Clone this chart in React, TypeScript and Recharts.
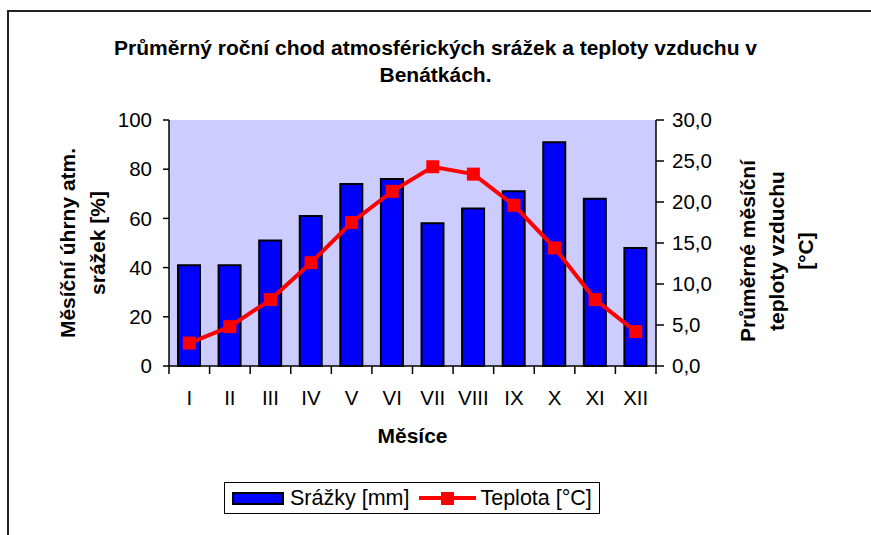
import {
  ComposedChart,
  Bar,
  Line,
  XAxis,
  YAxis,
  CartesianGrid,
  Legend,
  Label,
} from 'recharts'

const months = ['I', 'II', 'III', 'IV', 'V', 'VI', 'VII', 'VIII', 'IX', 'X', 'XI', 'XII']
const srazky = [41, 41, 51, 61, 74, 76, 58, 64, 71, 91, 68, 48]
const teplota = [2.8, 4.8, 8.1, 12.6, 17.5, 21.3, 24.3, 23.4, 19.6, 14.4, 8.1, 4.2]
const srazkyTicks = [0, 20, 40, 60, 80, 100]
const teplotaTicks = [0, 5, 10, 15, 20, 25, 30]

const data = months.map((m, i) => ({ mesic: m, srazky: srazky[i], teplota: teplota[i] }))

const FONT = '"Liberation Sans", Arial, sans-serif'
const TICK_FONT = 20.5
const BOLD_FONT = 21

const fmtComma = (v: number) => v.toFixed(1).replace('.', ',')

function MonthTick(props: any) {
  const { x, y, payload, index, visibleTicksCount } = props
  const half = payload.offset ?? 0
  const isLast = index === visibleTicksCount - 1
  return (
    <g>
      <line x1={x - half} x2={x - half} y1={y} y2={y + 8} stroke="#000" strokeWidth={1.5} />
      {isLast && <line x1={x + half} x2={x + half} y1={y} y2={y + 8} stroke="#000" strokeWidth={1.5} />}
      <text x={x} y={y + 31} textAnchor="middle" dominantBaseline="central" fontSize={TICK_FONT} fontFamily={FONT} fill="#000">
        {payload.value}
      </text>
    </g>
  )
}

function SquareDot(props: any) {
  const { cx, cy } = props
  if (cx == null || cy == null) return null
  return <rect x={cx - 6.5} y={cy - 6.5} width={13} height={13} fill="#FF0000" />
}

function RotatedLabel({ cx, cy, lines, gap }: { cx: number; cy: number; lines: string[]; gap: number }) {
  const start = -((lines.length - 1) * gap) / 2
  return (
    <text
      x={cx}
      y={cy}
      transform={`rotate(-90, ${cx}, ${cy})`}
      textAnchor="middle"
      fontSize={BOLD_FONT}
      fontWeight="bold"
      fontFamily={FONT}
      fill="#000"
    >
      {lines.map((l, i) => (
        <tspan key={i} x={cx} y={cy + start + i * gap} dominantBaseline="central">
          {l}
        </tspan>
      ))}
    </text>
  )
}

function LegendBox() {
  return (
    <div
      style={{
        width: 376,
        height: 32,
        boxSizing: 'border-box',
        border: '1px solid #000',
        background: '#fff',
        display: 'flex',
        alignItems: 'center',
        fontFamily: FONT,
        fontSize: 21.5,
        color: '#000',
        paddingLeft: 7,
        whiteSpace: 'nowrap',
      }}
    >
      <span style={{ width: 52, height: 13, boxSizing: 'border-box', background: '#0000FF', border: '2px solid #000', display: 'inline-block', flex: 'none' }} />
      <span style={{ marginLeft: 6 }}>Srážky [mm]</span>
      <svg width={57} height={16} style={{ marginLeft: 10, flex: 'none' }}>
        <line x1={0} x2={57} y1={8} y2={8} stroke="#FF0000" strokeWidth={4} />
        <rect x={22} y={2} width={13} height={13} fill="#FF0000" />
      </svg>
      <span style={{ marginLeft: 4 }}>Teplota [°C]</span>
    </div>
  )
}

export default function App() {
  return (
    <div style={{ position: 'absolute', left: 0, top: 0, width: 871, height: 535, overflow: 'hidden', background: '#fff' }}>
      <div style={{ position: 'absolute', left: 7, top: 10, width: 900, height: 600, borderLeft: '2px solid #222', borderTop: '2px solid #222' }} />
      <div
        style={{
          position: 'absolute',
          left: 0,
          top: 34,
          width: 871,
          textAlign: 'center',
          fontFamily: FONT,
          fontWeight: 'bold',
          fontSize: BOLD_FONT,
          lineHeight: '27px',
          color: '#000',
        }}
      >
        <div>Průměrný roční chod atmosférických srážek a teploty vzduchu v</div>
        <div>Benátkách.</div>
      </div>
      <div style={{ position: 'absolute', left: 0, top: 0 }}>
        <ComposedChart width={871} height={535} data={data} margin={{ top: 120, right: 155, bottom: 99, left: 109 }}>
          <CartesianGrid fill="#CCCCFF" horizontal={false} vertical={false} />
          <XAxis
            xAxisId="top"
            orientation="top"
            dataKey="mesic"
            height={0}
            tick={false}
            tickLine={false}
            axisLine={{ stroke: '#808080', strokeWidth: 2 }}
          />
          <XAxis
            dataKey="mesic"
            height={70}
            tickSize={0}
            tickMargin={0}
            tickLine={false}
            interval={0}
            axisLine={{ stroke: '#000', strokeWidth: 1.5 }}
            tick={<MonthTick />}
          >
            <Label
              content={(p: any) => {
                const vb = p.viewBox
                return (
                  <text
                    x={vb.x + vb.width / 2}
                    y={vb.y + 69}
                    textAnchor="middle"
                    dominantBaseline="central"
                    fontSize={BOLD_FONT}
                    fontWeight="bold"
                    fontFamily={FONT}
                    fill="#000"
                  >
                    Měsíce
                  </text>
                )
              }}
            />
          </XAxis>
          <YAxis
            yAxisId="left"
            width={60}
            domain={[0, 100]}
            ticks={srazkyTicks}
            tickSize={6}
            tickMargin={11}
            axisLine={{ stroke: '#000', strokeWidth: 1.5 }}
            tickLine={{ stroke: '#000', strokeWidth: 1.5 }}
            tick={{ fill: '#000', fontSize: TICK_FONT, fontFamily: FONT }}
          >
            <Label
              content={(p: any) => {
                const vb = p.viewBox
                return <RotatedLabel cx={82} cy={vb.y + vb.height / 2} lines={['Měsíční úhrny atm.', 'srážek [%]']} gap={30} />
              }}
            />
          </YAxis>
          <YAxis
            yAxisId="right"
            orientation="right"
            width={60}
            domain={[0, 30]}
            ticks={teplotaTicks}
            tickFormatter={fmtComma}
            tickSize={8}
            tickMargin={8}
            axisLine={{ stroke: '#000', strokeWidth: 1.5 }}
            tickLine={{ stroke: '#000', strokeWidth: 1.5 }}
            tick={{ fill: '#000', fontSize: TICK_FONT, fontFamily: FONT }}
          >
            <Label
              content={(p: any) => {
                const vb = p.viewBox
                return (
                  <RotatedLabel
                    cx={776}
                    cy={vb.y + vb.height / 2 + 8}
                    lines={['Průměrné měsíční', 'teploty vzduchu', '[°C]']}
                    gap={29}
                  />
                )
              }}
            />
          </YAxis>
          <Legend
            verticalAlign="middle"
            align="center"
            wrapperStyle={{ position: 'absolute', left: 224, top: 482, width: 376, height: 32 }}
            content={() => <LegendBox />}
          />
          <Bar
            yAxisId="left"
            dataKey="srazky"
            name="Srážky [mm]"
            fill="#0000FF"
            stroke="#000"
            strokeWidth={2}
            barSize={22}
            isAnimationActive={false}
          />
          <Line
            yAxisId="right"
            dataKey="teplota"
            name="Teplota [°C]"
            type="linear"
            stroke="#FF0000"
            strokeWidth={4}
            dot={<SquareDot />}
            activeDot={false}
            isAnimationActive={false}
          />
        </ComposedChart>
      </div>
    </div>
  )
}
